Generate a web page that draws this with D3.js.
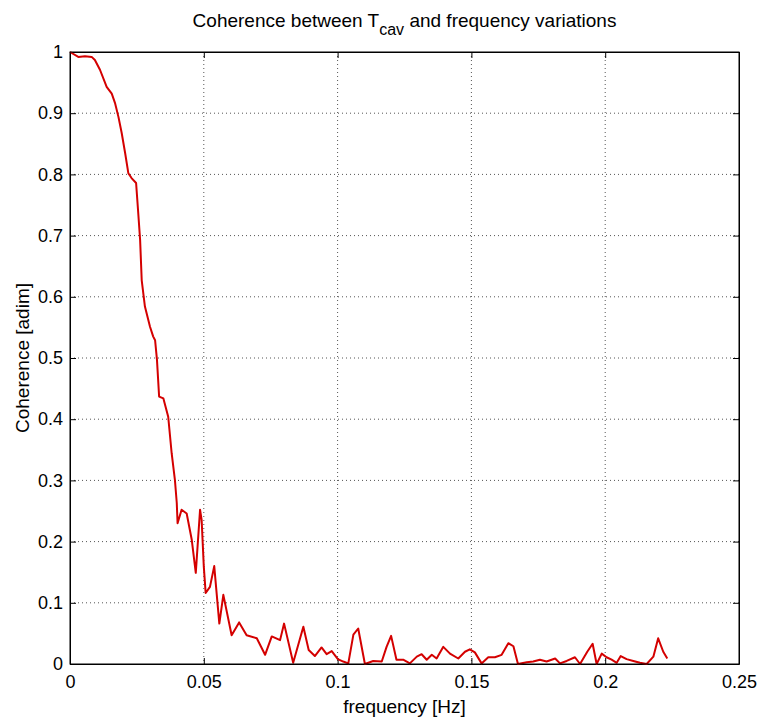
<!DOCTYPE html>
<html>
<head>
<meta charset="utf-8">
<script src="https://cdn.jsdelivr.net/npm/d3@7"></script>
<style>
html,body{margin:0;padding:0;background:#fff;}
svg{display:block;font-family:"Liberation Sans",Arial,sans-serif;}
</style>
</head>
<body>
<svg id="chart" width="762" height="719"></svg>
<script>
const freq = [0,0.0031,0.0056,0.0081,0.0093,0.0112,0.0137,0.0156,0.0168,0.0181,0.0193,0.0206,0.0218,0.023,0.0247,0.0255,0.0262,0.0268,0.028,0.0299,0.0311,0.0318,0.0325,0.0333,0.0349,0.0367,0.038,0.0392,0.0399,0.0402,0.0417,0.0436,0.0455,0.047,0.0486,0.0492,0.05,0.0507,0.0523,0.0539,0.0558,0.0573,0.0604,0.0632,0.066,0.0698,0.0729,0.0754,0.0785,0.08,0.0834,0.0872,0.0892,0.0915,0.094,0.0959,0.0978,0.1001,0.1021,0.104,0.1059,0.1077,0.1102,0.1133,0.1165,0.1183,0.12,0.122,0.1245,0.127,0.1296,0.1314,0.1333,0.1352,0.137,0.1395,0.142,0.1451,0.1476,0.1494,0.1513,0.1538,0.1563,0.1588,0.1613,0.1638,0.1657,0.1674,0.1707,0.1731,0.1756,0.1781,0.1813,0.1831,0.1856,0.1887,0.1906,0.1933,0.1953,0.1968,0.1987,0.2005,0.2024,0.2043,0.2058,0.208,0.2105,0.213,0.2155,0.218,0.2198,0.2217,0.2232];
const coherence = [1.0,0.992,0.993,0.992,0.987,0.971,0.943,0.932,0.917,0.894,0.868,0.835,0.802,0.794,0.786,0.737,0.693,0.627,0.584,0.551,0.535,0.529,0.497,0.437,0.434,0.404,0.344,0.301,0.263,0.23,0.252,0.246,0.203,0.149,0.252,0.235,0.159,0.116,0.126,0.16,0.066,0.113,0.047,0.068,0.047,0.042,0.015,0.045,0.039,0.066,0.002,0.061,0.023,0.013,0.027,0.016,0.021,0.008,0.004,0.001,0.048,0.058,0.0,0.005,0.004,0.028,0.046,0.007,0.007,0.001,0.012,0.016,0.007,0.015,0.009,0.028,0.017,0.009,0.02,0.024,0.019,0.001,0.011,0.011,0.015,0.034,0.029,0.0,0.003,0.004,0.007,0.004,0.009,0.001,0.005,0.011,0.0,0.02,0.033,0.0,0.017,0.011,0.007,0.002,0.013,0.008,0.005,0.002,0.0,0.012,0.042,0.02,0.009];
const xTicks = [0,0.05,0.1,0.15,0.2,0.25];
const xTickLabels = ["0","0.05","0.1","0.15","0.2","0.25"];
const yTicks = [0,0.1,0.2,0.3,0.4,0.5,0.6,0.7,0.8,0.9,1];
const yTickLabels = ["0","0.1","0.2","0.3","0.4","0.5","0.6","0.7","0.8","0.9","1"];
const titleMain = "Coherence between T";
const titleSub = "cav";
const titleRest = " and frequency variations";
const xLabel = "frequency [Hz]";
const yLabel = "Coherence [adim]";

const svg = d3.select("#chart");
const L = 70, R = 739, T = 52, B = 664;
const x = d3.scaleLinear().domain([0,0.25]).range([L,R]);
const y = d3.scaleLinear().domain([0,1]).range([B,T]);

// grid
const grid = svg.append("g");
grid.selectAll("line.gx").data(xTicks.slice(1,-1)).enter().append("line")
  .attr("x1",d=>x(d)).attr("x2",d=>x(d)).attr("y1",T).attr("y2",B)
  .attr("stroke","#555").attr("stroke-width",1).attr("stroke-dasharray","1,3");
grid.selectAll("line.gy").data(yTicks.slice(1,-1)).enter().append("line")
  .attr("y1",d=>y(d)).attr("y2",d=>y(d)).attr("x1",L).attr("x2",R)
  .attr("stroke","#555").attr("stroke-width",1).attr("stroke-dasharray","1,3");

// axes
const fmtX = (d,i)=>xTickLabels[xTicks.indexOf(d)];
const fmtY = (d,i)=>yTickLabels[yTicks.indexOf(d)];
const axB = svg.append("g").attr("transform",`translate(0,${B})`)
  .call(d3.axisBottom(x).tickValues(xTicks).tickFormat(fmtX).tickSizeInner(-6).tickSizeOuter(0).tickPadding(11));
const axL = svg.append("g").attr("transform",`translate(${L},0)`)
  .call(d3.axisLeft(y).tickValues(yTicks).tickFormat(fmtY).tickSizeInner(-6).tickSizeOuter(0).tickPadding(7));
const axT = svg.append("g").attr("transform",`translate(0,${T})`)
  .call(d3.axisTop(x).tickValues(xTicks).tickFormat("").tickSizeInner(-6).tickSizeOuter(0));
const axR = svg.append("g").attr("transform",`translate(${R},0)`)
  .call(d3.axisRight(y).tickValues(yTicks).tickFormat("").tickSizeInner(-6).tickSizeOuter(0));
[axB,axL,axT,axR].forEach(a=>{
  a.select(".domain").attr("stroke","#000");
  a.selectAll(".tick line").attr("stroke","#000");
  a.selectAll(".tick text").attr("fill","#000").style("font-size","18px").style("font-family","'Liberation Sans',Arial,sans-serif");
});

// line
const line = d3.line().x((d,i)=>x(freq[i])).y(d=>y(d));
svg.append("path").datum(coherence).attr("d",line)
  .attr("fill","none").attr("stroke","#d40000").attr("stroke-width",2).attr("stroke-linejoin","round");

// box on top
svg.append("rect").attr("x",L).attr("y",T).attr("width",R-L).attr("height",B-T)
  .attr("fill","none").attr("stroke","#000").attr("stroke-width",1);

// title
const t = svg.append("text").attr("x",(L+R)/2).attr("y",27).attr("text-anchor","middle")
  .style("font-size","19px").attr("fill","#000");
t.append("tspan").text(titleMain);
t.append("tspan").attr("dy",8).style("font-size","16px").text(titleSub);
t.append("tspan").attr("dy",-8).text(titleRest);

svg.append("text").attr("x",(L+R)/2).attr("y",713).attr("text-anchor","middle")
  .style("font-size","19px").attr("fill","#000").text(xLabel);
svg.append("text").attr("transform",`translate(29,${(T+B)/2}) rotate(-90)`).attr("text-anchor","middle")
  .style("font-size","19px").attr("fill","#000").text(yLabel);
</script>
</body>
</html>
